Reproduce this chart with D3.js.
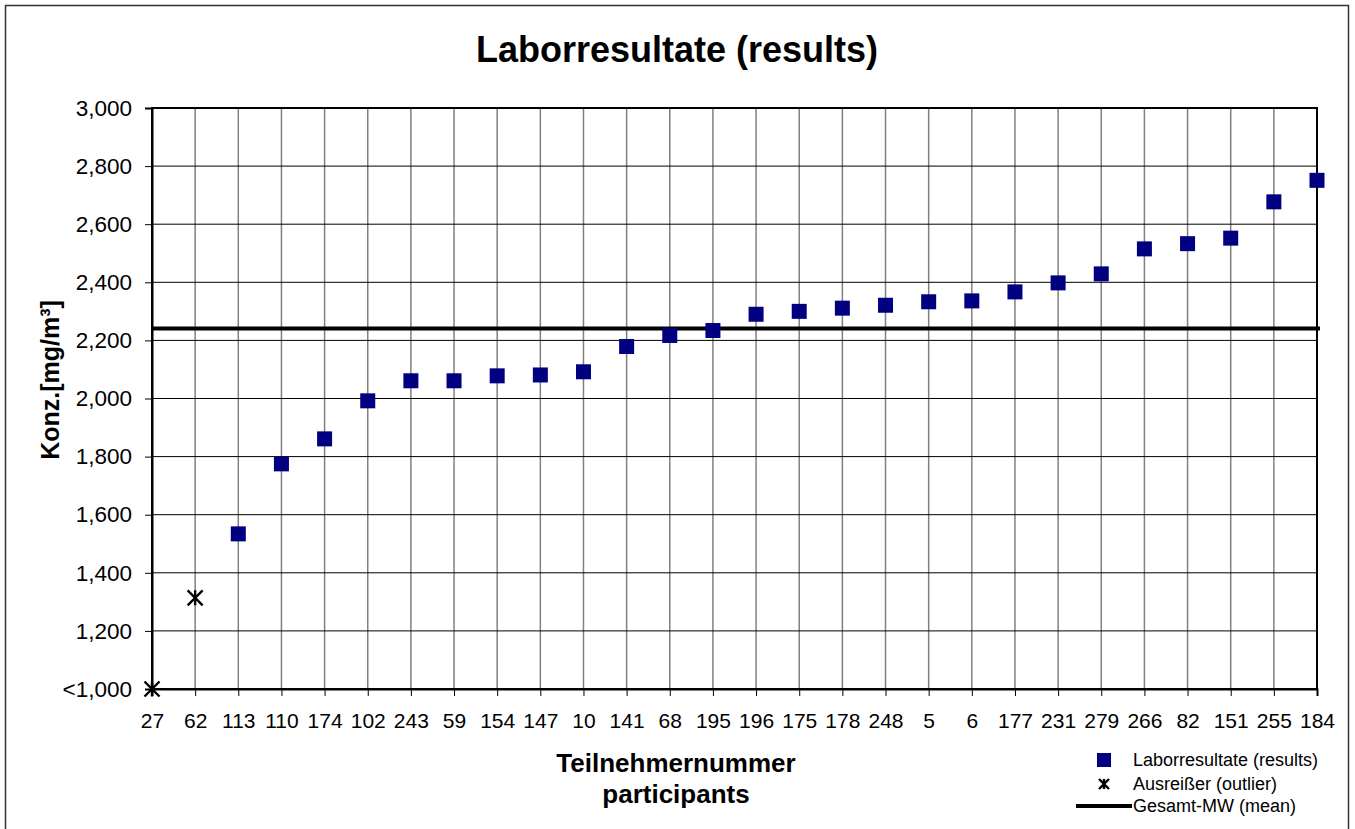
<!DOCTYPE html>
<html>
<head>
<meta charset="utf-8">
<script src="https://cdn.jsdelivr.net/npm/d3@7"></script>
<style>
  body { margin: 0; background: #fff; }
  text { font-family: "Liberation Sans", Arial, sans-serif; }
</style>
</head>
<body>
<svg id="chart" width="1355" height="829"></svg>
<script>
// participants, sorted by result
const participants = ["27", "62", "113", "110", "174", "102", "243", "59", "154", "147", "10", "141", "68", "195",
  "196", "175", "178", "248", "5", "6", "177", "231", "279", "266", "82", "151", "255", "184"];
const results = [null, null, 1534, 1775, 1861, 1992, 2061, 2061, 2078, 2081, 2092, 2179, 2217, 2234,
  2290, 2300, 2311, 2321, 2333, 2336, 2367, 2398, 2429, 2515, 2533, 2552, 2677, 2751];
const outliers = [1000, 1314, null, null, null, null, null, null, null, null, null, null, null, null,
  null, null, null, null, null, null, null, null, null, null, null, null, null, null];
const meanValue = 2241;
const yTicks = [1000, 1200, 1400, 1600, 1800, 2000, 2200, 2400, 2600, 2800, 3000];
const legendLabels = ["Laborresultate (results)", "Ausreißer (outlier)", "Gesamt-MW (mean)"];

const svg = d3.select("#chart");
const pLeft = 152, pRight = 1317, pTop = 108, pBottom = 689;

// outer frame
svg.append("rect")
  .attr("x", 5.5).attr("y", 5.5)
  .attr("width", 1343).attr("height", 840)
  .attr("fill", "#fff").attr("stroke", "#333").attr("stroke-width", 1.5);

const x = d3.scalePoint().domain(participants).range([pLeft, pRight]);
const y = d3.scaleLinear().domain([1000, 3000]).range([pBottom, pTop]);

// grid
svg.append("g").selectAll("line")
  .data(participants.slice(1, -1))
  .enter().append("line")
  .attr("x1", d => x(d)).attr("x2", d => x(d))
  .attr("y1", pTop).attr("y2", pBottom)
  .attr("stroke", "#808080").attr("stroke-width", 1.5);

svg.append("g").selectAll("line")
  .data(yTicks.slice(1, -1))
  .enter().append("line")
  .attr("x1", pLeft).attr("x2", pRight)
  .attr("y1", d => y(d)).attr("y2", d => y(d))
  .attr("stroke", "#000").attr("stroke-width", 1);

// frame of plot
svg.append("rect")
  .attr("x", pLeft).attr("y", pTop)
  .attr("width", pRight - pLeft).attr("height", pBottom - pTop)
  .attr("fill", "none").attr("stroke", "#000").attr("stroke-width", 2);

// axes
const yAxis = svg.append("g")
  .attr("transform", `translate(${pLeft},0)`)
  .call(d3.axisLeft(y).tickValues(yTicks).tickSize(7).tickPadding(13)
    .tickFormat(d => d === 1000 ? "<1,000" : d3.format(",")(d)));
yAxis.select(".domain").attr("stroke-width", 2);
yAxis.selectAll("text").attr("font-size", 22.5).attr("fill", "#000");

const xAxis = svg.append("g")
  .attr("transform", `translate(0,${pBottom})`)
  .call(d3.axisBottom(x).tickSize(7).tickPadding(17));
xAxis.select(".domain").attr("stroke-width", 2);
xAxis.selectAll("text").attr("font-size", 21).attr("fill", "#000");

// mean line
svg.append("line")
  .attr("x1", pLeft).attr("x2", pRight + 3)
  .attr("y1", y(meanValue)).attr("y2", y(meanValue))
  .attr("stroke", "#000").attr("stroke-width", 4);

// results
const sq = 15;
svg.append("g").selectAll("rect")
  .data(participants.map((p, i) => [p, results[i]]).filter(d => d[1] != null))
  .enter().append("rect")
  .attr("x", d => x(d[0]) - sq / 2)
  .attr("y", d => y(d[1]) - sq / 2)
  .attr("width", sq).attr("height", sq)
  .attr("fill", "#000080");

// outliers (star marker)
function star(g, cx, cy, r) {
  g.append("path")
    .attr("d", `M${cx - r},${cy - r}L${cx + r},${cy + r}M${cx - r},${cy + r}L${cx + r},${cy - r}M${cx},${cy - r}L${cx},${cy + r}`)
    .attr("stroke", "#000").attr("stroke-width", 2.4).attr("fill", "none");
}
const outG = svg.append("g");
participants.forEach((p, i) => {
  if (outliers[i] != null) star(outG, x(p), y(outliers[i]), 7.5);
});

// titles
svg.append("text")
  .attr("x", 677).attr("y", 62)
  .attr("text-anchor", "middle")
  .attr("font-size", 36).attr("font-weight", "bold")
  .text("Laborresultate (results)");

svg.append("text")
  .attr("x", 676).attr("y", 772)
  .attr("text-anchor", "middle")
  .attr("font-size", 26).attr("font-weight", "bold")
  .text("Teilnehmernummer");
svg.append("text")
  .attr("x", 676).attr("y", 803)
  .attr("text-anchor", "middle")
  .attr("font-size", 26).attr("font-weight", "bold")
  .text("participants");

svg.append("text")
  .attr("transform", "translate(59,380) rotate(-90)")
  .attr("text-anchor", "middle")
  .attr("font-size", 25).attr("font-weight", "bold")
  .text("Konz.[mg/m³]");

// legend
const lg = svg.append("g");
const ly = [760, 784, 806];
lg.append("rect").attr("x", 1097).attr("y", ly[0] - 7).attr("width", 14).attr("height", 14).attr("fill", "#000080");
star(lg, 1104, ly[1], 5);
lg.append("line").attr("x1", 1076).attr("x2", 1132).attr("y1", ly[2]).attr("y2", ly[2])
  .attr("stroke", "#000").attr("stroke-width", 4);
lg.selectAll("text")
  .data(legendLabels)
  .enter().append("text")
  .attr("x", 1133).attr("y", (d, i) => ly[i] + 6)
  .attr("font-size", 18)
  .text(d => d);
</script>
</body>
</html>
